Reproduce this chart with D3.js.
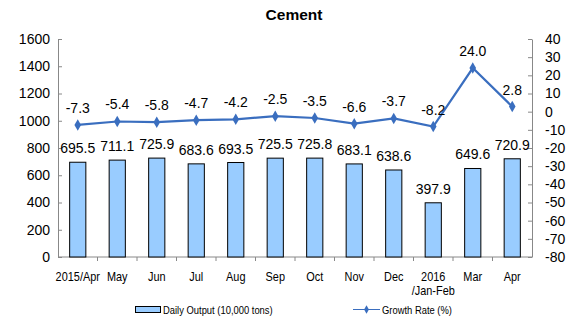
<!DOCTYPE html>
<html>
<head>
<meta charset="utf-8">
<script src="https://cdn.jsdelivr.net/npm/d3@7/dist/d3.min.js"></script>
<style>
  html, body { margin: 0; padding: 0; background: #fff; }
  svg { display: block; }
  .num { font-family: Arial, "Liberation Sans", sans-serif; }
</style>
</head>
<body>
<svg id="chart" width="579" height="324"></svg>
<script>
// Cement: daily output (bars, left axis) and year-on-year growth rate (line, right axis)
const categories = ["2015/Apr", "May", "Jun", "Jul", "Aug", "Sep", "Oct", "Nov", "Dec", "2016\n/Jan-Feb", "Mar", "Apr"];
const dailyOutput = [695.5, 711.1, 725.9, 683.6, 693.5, 725.5, 725.8, 683.1, 638.6, 397.9, 649.6, 720.9];
const growthRate = [-7.3, -5.4, -5.8, -4.7, -4.2, -2.5, -3.5, -6.6, -3.7, -8.2, 24.0, 2.8];
const leftTicks = [0, 200, 400, 600, 800, 1000, 1200, 1400, 1600];
const rightTicks = [-80, -70, -60, -50, -40, -30, -20, -10, 0, 10, 20, 30, 40];

const barColor = "#99ccff";
const lineColor = "#3a6ebf";
const narrow = 0.84; // horizontal squeeze for the condensed label text

// plain hyphen-minus number formats
const fmtInt = d => String(d);
const fmt1 = d => d.toFixed(1);

const svg = d3.select("#chart");
const plot = { left: 58, right: 532, top: 39, bottom: 257 };

const x = d3.scaleBand().domain(d3.range(categories.length)).range([plot.left, plot.right]).paddingInner(0).paddingOuter(0);
const yL = d3.scaleLinear().domain([0, 1600]).range([plot.bottom, plot.top]);
const yR = d3.scaleLinear().domain([-80, 40]).range([plot.bottom, plot.top]);
const barW = x.bandwidth() * 0.41;
const cx = i => x(i) + x.bandwidth() / 2;

// title
svg.append("text")
  .attr("x", 294).attr("y", 20)
  .attr("text-anchor", "middle")
  .attr("class", "num")
  .style("font-size", "15.5px").style("font-weight", "bold")
  .text("Cement");

// left axis
const axL = d3.axisLeft(yL).tickValues(leftTicks).tickFormat(fmtInt).tickSizeInner(-4).tickSizeOuter(0).tickPadding(8);
const gL = svg.append("g").attr("transform", `translate(${plot.left},0)`).call(axL);
gL.select(".domain").attr("stroke", "#888");
gL.selectAll(".tick line").attr("stroke", "#888");
gL.selectAll(".tick text").attr("class", "num").style("font-size", "14px").attr("fill", "#000").attr("font-family", null);

// right axis
const axR = d3.axisRight(yR).tickValues(rightTicks).tickFormat(fmtInt).tickSizeInner(-4).tickSizeOuter(0).tickPadding(13);
const gR = svg.append("g").attr("transform", `translate(${plot.right},0)`).call(axR);
gR.select(".domain").attr("stroke", "#888");
gR.selectAll(".tick line").attr("stroke", "#888");
gR.selectAll(".tick text").attr("class", "num").style("font-size", "14px").attr("fill", "#000").attr("font-family", null);

// bottom axis: baseline and separators between categories
svg.append("line")
  .attr("x1", plot.left).attr("x2", plot.right)
  .attr("y1", yL(0)).attr("y2", yL(0))
  .attr("stroke", "#888");
svg.append("g").selectAll("line")
  .data(d3.range(1, categories.length))
  .join("line")
  .attr("x1", i => x(i)).attr("x2", i => x(i))
  .attr("y1", yL(0)).attr("y2", yL(0) + 4)
  .attr("stroke", "#888");

// category labels (condensed)
const catG = svg.append("g");
categories.forEach((c, i) => {
  const t = catG.append("text")
    .attr("class", "num")
    .attr("transform", `translate(${cx(i)},281) scale(${narrow},1)`)
    .attr("text-anchor", "middle")
    .style("font-size", "13px");
  c.split("\n").forEach((part, k) => {
    t.append("tspan").attr("x", 0).attr("dy", k === 0 ? 0 : 14).text(part);
  });
});

// bars
svg.append("g").selectAll("rect")
  .data(dailyOutput)
  .join("rect")
  .attr("x", (d, i) => cx(i) - barW / 2)
  .attr("y", d => yL(d))
  .attr("width", barW)
  .attr("height", d => yL(0) - yL(d))
  .attr("fill", barColor)
  .attr("stroke", "#000")
  .attr("stroke-width", 1);

// bar value labels
svg.append("g").selectAll("text")
  .data(dailyOutput)
  .join("text")
  .attr("class", "num")
  .attr("x", (d, i) => cx(i))
  .attr("y", d => yL(d) - 9)
  .attr("text-anchor", "middle")
  .style("font-size", "14px")
  .text(fmt1);

// growth line
const line = d3.line()
  .x((d, i) => cx(i))
  .y(d => yR(d));
svg.append("path")
  .datum(growthRate)
  .attr("d", line)
  .attr("fill", "none")
  .attr("stroke", lineColor)
  .attr("stroke-width", 2.2);

const diamond = d3.symbol().type(d3.symbolDiamond).size(38);
svg.append("g").selectAll("path")
  .data(growthRate)
  .join("path")
  .attr("transform", (d, i) => `translate(${cx(i)},${yR(d)})`)
  .attr("d", diamond)
  .attr("fill", lineColor);

// growth value labels
svg.append("g").selectAll("text")
  .data(growthRate)
  .join("text")
  .attr("class", "num")
  .attr("x", (d, i) => cx(i))
  .attr("y", d => yR(d) - 12)
  .attr("text-anchor", "middle")
  .style("font-size", "14px")
  .text(fmt1);

// legend
const lg = svg.append("g");
lg.append("rect")
  .attr("x", 135.5).attr("y", 306.5).attr("width", 25).attr("height", 6)
  .attr("fill", barColor).attr("stroke", "#000");
lg.append("text")
  .attr("class", "num")
  .attr("transform", `translate(163,313.5) scale(${narrow},1)`)
  .style("font-size", "11.2px")
  .text("Daily Output (10,000 tons)");
lg.append("line")
  .attr("x1", 353).attr("x2", 380).attr("y1", 309.5).attr("y2", 309.5)
  .attr("stroke", lineColor).attr("stroke-width", 1);
lg.append("path")
  .attr("transform", "translate(366.5,309.5)")
  .attr("d", d3.symbol().type(d3.symbolDiamond).size(20))
  .attr("fill", lineColor);
lg.append("text")
  .attr("class", "num")
  .attr("transform", `translate(382,313.5) scale(${narrow},1)`)
  .style("font-size", "11.2px")
  .text("Growth Rate (%)");
</script>
</body>
</html>
